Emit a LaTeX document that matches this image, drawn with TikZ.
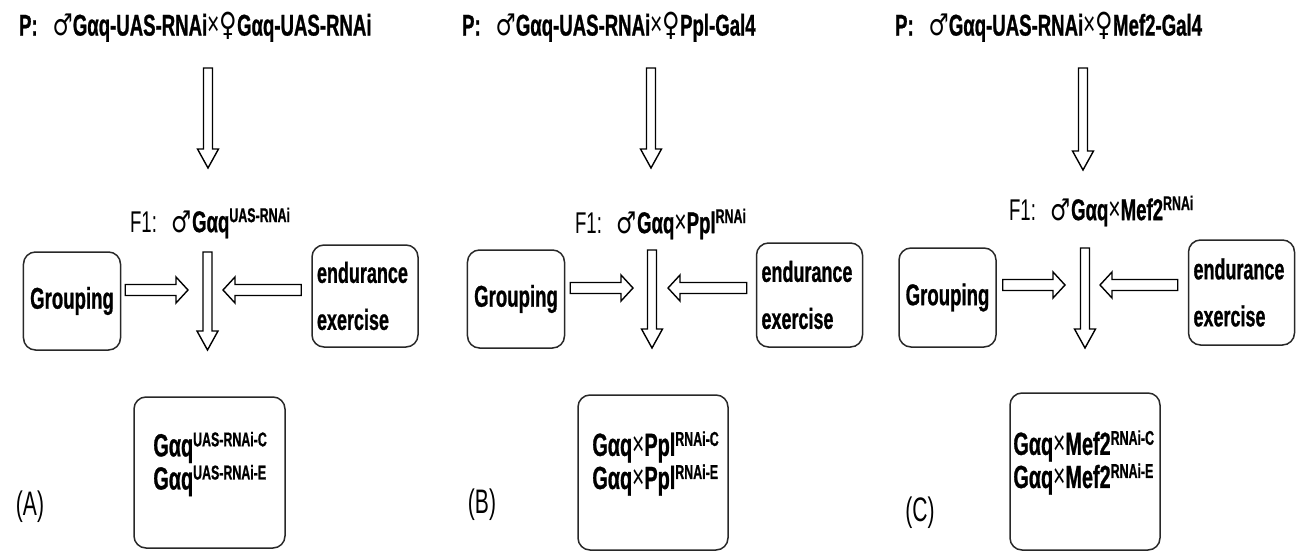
\documentclass[tikz,border=0pt]{standalone}
\usepackage{fontspec}
\setmainfont{Liberation Sans}[FakeStretch=0.62, BoldFeatures={FakeBold=0.8}]
\newfontfamily\symfont{DejaVu Sans}[FakeStretch=0.75]
\usepackage{tikz}
\usetikzlibrary{calc}
\usepackage{xcolor}
\definecolor{boxgray}{RGB}{40,40,40}
\newcommand{\malesym}{{\symfont\fontsize{15}{18}\selectfont ♂}}
\newcommand{\femalesym}{{\symfont\fontsize{16}{18}\selectfont ♀}}
\newcommand{\crosssym}{{\mdseries\fontsize{17}{18}\selectfont ×}}
\newcommand{\ssup}[1]{\raisebox{5pt}{\fontsize{10}{10}\selectfont\bfseries #1}}
\tikzstyle{box} = [draw=boxgray, line width=0.75pt, rounded corners=6pt]
\tikzstyle{cross} = [anchor=west, font=\fontsize{15}{18}\selectfont\bfseries]
\tikzstyle{gen} = [anchor=west, font=\fontsize{15}{18}\selectfont]
\tikzstyle{tag} = [font=\fontsize{17}{20}\selectfont]
\tikzstyle{offspring} = [anchor=west, inner sep=0pt, text width=80pt, align=flush left, font=\fontsize{16}{14}\selectfont\bfseries]
\tikzstyle{treat} = [box, text width=48pt, inner xsep=2.5pt, minimum height=51pt, align=flush left, font=\fontsize{14.5}{23.5}\selectfont\bfseries]
\tikzstyle{downflow} = [draw=black, line width=0.7pt, to path={let \p1=(\tikztostart), \p2=(\tikztotarget) in
  (\x1-2.25pt,\y1) -- (\x1+2.25pt,\y1) -- (\x1+2.25pt,\y2+9.5pt) -- (\x1+5.25pt,\y2+9.5pt) -- (\x1,\y2)
  -- (\x1-5.25pt,\y2+9.5pt) -- (\x1-2.25pt,\y2+9.5pt) -- cycle}]
\tikzstyle{rightflow} = [draw=black, line width=0.7pt, to path={let \p1=(\tikztostart), \p2=(\tikztotarget) in
  (\x1,\y1+2.75pt) -- (\x2-6pt,\y1+2.75pt) -- (\x2-6pt,\y1+6.5pt) -- (\x2,\y1)
  -- (\x2-6pt,\y1-6.5pt) -- (\x2-6pt,\y1-2.75pt) -- (\x1,\y1-2.75pt) -- cycle}]
\tikzstyle{leftflow} = [draw=black, line width=0.7pt, to path={let \p1=(\tikztostart), \p2=(\tikztotarget) in
  (\x1,\y1+2.75pt) -- (\x2+6pt,\y1+2.75pt) -- (\x2+6pt,\y1+6.5pt) -- (\x2,\y1)
  -- (\x2+6pt,\y1-6.5pt) -- (\x2+6pt,\y1-2.75pt) -- (\x1,\y1-2.75pt) -- cycle}]

\begin{document}
\begin{tikzpicture}[x=0.5pt, y=-0.5pt]
\useasboundingbox (0,0) rectangle (1306,551);

% (A)
\node[cross] (titA) at (12,27) {P:\enspace\malesym Gαq-UAS-RNAi\crosssym\femalesym Gαq-UAS-RNAi};
\coordinate (topA1) at (208,68);
\coordinate (topA2) at (208,168);
\draw[downflow] (topA1) to (topA2);
\node[gen] (f1A) at (123,223) {F1:\enspace\malesym\textbf{Gαq\ssup{UAS-RNAi}}};
\node[box, minimum width=45pt, minimum height=49pt, font=\fontsize{15}{18}\selectfont\bfseries] (grpA) at (72,301) {Grouping};
\node[treat] (endA) at (365,296) {endurance\\exercise};
\coordinate (midA1) at (207.5,252);
\coordinate (midA2) at (207.5,350);
\coordinate (jA) at (207.5,290);
\draw[downflow] (midA1) to (midA2);
\draw[rightflow] ([xshift=2pt]grpA.east |- jA) to ([xshift=-9.75pt]jA);
\draw[leftflow] ([xshift=-5pt]endA.west |- jA) to ([xshift=7.75pt]jA);
\node[box, minimum width=75.5pt, minimum height=75.5pt] (resA) at (209.5,472.5) {};
\node[offspring] (resAtxt) at (153,464) {Gαq\ssup{UAS-RNAi-C}\\Gαq\ssup{UAS-RNAi-E}};
\node[tag] (labA) at (30,507) {(A)};

% (B)
\node[cross] (titB) at (455,27) {P:\enspace\malesym Gαq-UAS-RNAi\crosssym\femalesym Ppl-Gal4};
\coordinate (topB1) at (651,68);
\coordinate (topB2) at (651,168);
\draw[downflow] (topB1) to (topB2);
\node[gen] (f1B) at (568,224) {F1:\enspace\malesym\textbf{Gαq}\crosssym\textbf{Ppl\ssup{RNAi}}};
\node[box, minimum width=44pt, minimum height=49pt, font=\fontsize{15}{18}\selectfont\bfseries] (grpB) at (516,299) {Grouping};
\node[treat, minimum height=52pt] (endB) at (809.5,295) {endurance\\exercise};
\coordinate (midB1) at (652,250);
\coordinate (midB2) at (652,348);
\coordinate (jB) at (652,288);
\draw[downflow] (midB1) to (midB2);
\draw[rightflow] ([xshift=2.5pt]grpB.east |- jB) to ([xshift=-9.5pt]jB);
\draw[leftflow] ([xshift=-4.5pt]endB.west |- jB) to ([xshift=8pt]jB);
\node[box, minimum width=75pt, minimum height=77.5pt] (resB) at (653,472.5) {};
\node[offspring] (resBtxt) at (592,463.5) {Gαq\crosssym Ppl\ssup{RNAi-C}\\Gαq\crosssym Ppl\ssup{RNAi-E}};
\node[tag] (labB) at (482,505) {(B)};

% (C)
\node[cross] (titC) at (888,27) {P:\enspace\malesym Gαq-UAS-RNAi\crosssym\femalesym Mef2-Gal4};
\coordinate (topC1) at (1083,68);
\coordinate (topC2) at (1083,170);
\draw[downflow] (topC1) to (topC2);
\node[gen] (f1C) at (1002,211) {F1:\enspace\malesym\textbf{Gαq}\crosssym\textbf{Mef2\ssup{RNAi}}};
\node[box, minimum width=44.5pt, minimum height=49.5pt, font=\fontsize{15}{18}\selectfont\bfseries] (grpC) at (947.5,297.5) {Grouping};
\node[treat, minimum height=52.5pt] (endC) at (1241.5,292.5) {endurance\\exercise};
\coordinate (midC1) at (1085,248);
\coordinate (midC2) at (1085,348);
\coordinate (jC) at (1085,285);
\draw[downflow] (midC1) to (midC2);
\draw[rightflow] ([xshift=3pt]grpC.east |- jC) to ([xshift=-10pt]jC);
\draw[leftflow] ([xshift=-5pt]endC.west |- jC) to ([xshift=7.5pt]jC);
\node[box, minimum width=75pt, minimum height=78.5pt] (resC) at (1085,471.5) {};
\node[offspring] (resCtxt) at (1013,462.5) {Gαq\crosssym Mef2\ssup{RNAi-C}\\Gαq\crosssym Mef2\ssup{RNAi-E}};
\node[tag] (labC) at (920,513) {(C)};
\end{tikzpicture}
\end{document}
